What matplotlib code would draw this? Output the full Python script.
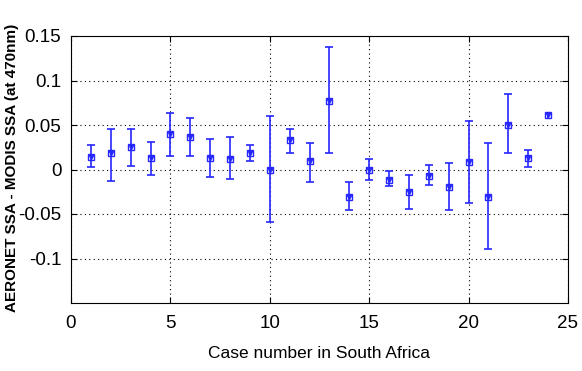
import matplotlib
matplotlib.use("Agg")
import matplotlib.pyplot as plt
import numpy as np

cases = list(range(1, 25))
ssa_diff = [0.014, 0.018, 0.025, 0.013, 0.040, 0.036, 0.013, 0.012, 0.018, -0.001,
            0.033, 0.009, 0.077, -0.031, -0.001, -0.012, -0.025, -0.007, -0.020, 0.008,
            -0.031, 0.050, 0.013, 0.061]
upper = [0.028, 0.046, 0.046, 0.031, 0.064, 0.058, 0.034, 0.036, 0.028, 0.060,
         0.046, 0.030, 0.138, -0.014, 0.012, -0.002, -0.006, 0.0045, 0.007, 0.054,
         0.030, 0.085, 0.022, 0.064]
lower = [0.003, -0.013, 0.004, -0.006, 0.015, 0.015, -0.008, -0.011, 0.009, -0.059,
         0.019, -0.014, 0.019, -0.045, -0.012, -0.018, -0.044, -0.017, -0.045, -0.038,
         -0.089, 0.018, 0.003, 0.058]
x_ticks = [0, 5, 10, 15, 20, 25]
y_ticks = [-0.1, -0.05, 0, 0.05, 0.1, 0.15]
y_ticklabels = ["-0.1", "-0.05", "0", "0.05", "0.1", "0.15"]

tick_font = "Liberation Sans"

fig = plt.figure(figsize=(5.82, 3.71), dpi=100)
ax = fig.add_axes([71/582, 1-303/371, (568-71)/582, (303-36)/371])

y = np.array(ssa_diff)
yerr = np.vstack([y - np.array(lower), np.array(upper) - y])
color = "#2626ff"
n = len(cases) - 1
ax.errorbar(cases[:n], y[:n], yerr=yerr[:, :n], fmt="none", ecolor=color, elinewidth=1.2,
            capsize=3.2, capthick=1.2, zorder=3)
ax.errorbar(cases[n:], y[n:], yerr=yerr[:, n:], fmt="none", ecolor=color, elinewidth=1.2,
            capsize=0, zorder=3)
ax.plot(cases, y, linestyle="none", marker="s", markersize=5, markerfacecolor="none",
        markeredgecolor=color, markeredgewidth=1.0, zorder=4)
ax.plot(cases, y, linestyle="none", marker="v", markersize=3, color=color, zorder=4)

ax.set_xlim(0, 25)
ax.set_ylim(-0.15, 0.15)
ax.set_xticks(x_ticks)
ax.set_yticks(y_ticks)
ax.set_yticklabels(y_ticklabels)
ax.grid(True, color="black", linestyle=(0, (1, 3)), linewidth=0.8)
ax.tick_params(direction="in", top=True, right=True, length=4, width=0.8)
ax.tick_params(axis="x", pad=9)
ax.tick_params(axis="y", pad=7)
for lab in ax.get_xticklabels() + ax.get_yticklabels():
    lab.set_fontfamily(tick_font)
    lab.set_fontsize(13.5)
for s in ax.spines.values():
    s.set_linewidth(0.8)

ax.set_xlabel("Case number in South Africa", fontfamily=tick_font, fontsize=12.5, labelpad=10)
fig.text(12/582, 1-168/371, "AERONET SSA - MODIS SSA (at 470nm)", rotation=90,
         ha="center", va="center", fontfamily="Liberation Sans", fontweight="bold",
         fontsize=11)

fig.savefig("out.png", dpi=100)
